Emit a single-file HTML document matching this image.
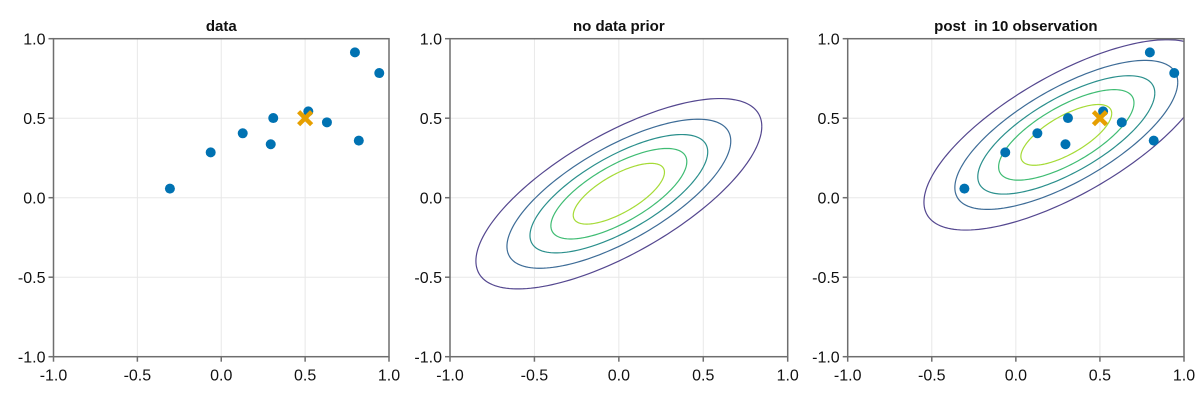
<!DOCTYPE html>
<html><head><meta charset="utf-8">
<style>
html,body{margin:0;padding:0;background:#fff;}
svg text{font-family:"Liberation Sans",Arial,sans-serif;white-space:pre;}
</style></head>
<body>
<svg id="fig" width="1200" height="400" viewBox="0 0 1200 400" xmlns="http://www.w3.org/2000/svg"></svg>
<script>
const obsX = [-0.306, -0.063, 0.128, 0.295, 0.31, 0.519, 0.63, 0.797, 0.82, 0.942];
const obsY = [0.057, 0.285, 0.405, 0.336, 0.501, 0.543, 0.474, 0.914, 0.359, 0.784];
const trueParam = [0.5, 0.5];
const priorMean = [0.0, 0.025];
const postMean = [0.30, 0.395];
const covXX = 0.2, covXY = 0.1, covYY = 0.1;
const levelDist = [1.893, 1.482, 1.177, 0.900, 0.604];
const levelColors = ["#54478f", "#3d6c97", "#2a8f8c", "#3fbc73", "#a5db36"];
const tickVals = [-1.0, -0.5, 0.0, 0.5, 1.0];
const tickLabels = ["-1.0", "-0.5", "0.0", "0.5", "1.0"];
const titles = ["data", "no data prior", "post  in 10 observation"];

const NS = "http://www.w3.org/2000/svg";
const svg = document.getElementById("fig");
const panels = [[53.5, 389], [450, 787.7], [847.7, 1184]];
const TOP = 38.7, BOT = 356.7;
function mk(tag, attrs, parent){
  const e = document.createElementNS(NS, tag);
  for (const k in attrs) e.setAttribute(k, attrs[k]);
  (parent || svg).appendChild(e);
  return e;
}
panels.forEach((p, i) => {
  const [L, R] = p;
  const sx = v => L + (v + 1) / 2 * (R - L);
  const sy = v => BOT - (v + 1) / 2 * (BOT - TOP);
  const g = mk("g", {});
  
  
  const clip = mk("clipPath", {id: "clip" + i}, g);
  mk("rect", {x: L, y: TOP, width: R - L, height: BOT - TOP}, clip);
  tickVals.forEach((t, k) => {
    const gx = mk("line", {x1: sx(t), x2: sx(t), y1: TOP, y2: BOT, stroke: "#e8e8e8", "stroke-width": 1}, g);
    
    
    const gy = mk("line", {x1: L, x2: R, y1: sy(t), y2: sy(t), stroke: "#e8e8e8", "stroke-width": 1}, g);
    
    
  });
  const plotG = mk("g", {"clip-path": "url(#clip" + i + ")"}, g);
  if (i > 0) {
    const mu = i === 1 ? priorMean : postMean;
    const a = Math.sqrt(covXX), b = covXY / a, c = Math.sqrt(covYY - b * b);
    levelDist.forEach((d, k) => {
      let pts = [];
      for (let s = 0; s <= 180; s++) {
        const t = s / 180 * 2 * Math.PI;
        const u = Math.cos(t), v = Math.sin(t);
        const x = mu[0] + d * a * u, y = mu[1] + d * (b * u + c * v);
        pts.push(sx(x).toFixed(2) + "," + sy(y).toFixed(2));
      }
      const pl = mk("polyline", {points: pts.join(" "), fill: "none", stroke: levelColors[k], "stroke-width": 1.2}, plotG);
      
      
    });
  }
  if (i !== 1) {
    obsX.forEach((x, k) => {
      const cc = mk("circle", {cx: sx(x), cy: sy(obsY[k]), r: 5, fill: "#0072b2"}, plotG);
      
      
    });
    const cx = sx(trueParam[0]), cy = sy(trueParam[1]), h = 6.5;
    const cr = mk("path", {d: `M${cx-h},${cy-h}L${cx+h},${cy+h}M${cx-h},${cy+h}L${cx+h},${cy-h}`, stroke: "#e69f00", "stroke-width": 4.5, fill: "none"}, plotG);
    
    
  }
  const fr = mk("rect", {x: L, y: TOP, width: R - L, height: BOT - TOP, fill: "none", stroke: "#6e6e6e", "stroke-width": 1.5}, g);
  
  
  tickVals.forEach((t, k) => {
    mk("line", {x1: sx(t), x2: sx(t), y1: BOT, y2: BOT + 5, stroke: "#6e6e6e", "stroke-width": 1.5}, g);
    mk("line", {x1: L - 5, x2: L, y1: sy(t), y2: sy(t), stroke: "#6e6e6e", "stroke-width": 1.5}, g);
    const tx = mk("text", {x: sx(t), y: BOT + 24, "text-anchor": "middle", "font-size": 16, fill: "#111"}, g);
    tx.textContent = tickLabels[k];
    
    
    const ty = mk("text", {x: L - 8, y: sy(t) + 6, "text-anchor": "end", "font-size": 16, fill: "#111"}, g);
    ty.textContent = tickLabels[k];
    
    
  });
  const ti = mk("text", {x: (L + R) / 2, y: 31, "text-anchor": "middle", "font-size": 15, "font-weight": "bold", fill: "#111"}, g);
  ti.textContent = titles[i];
  
  
});
</script>
</body></html>
